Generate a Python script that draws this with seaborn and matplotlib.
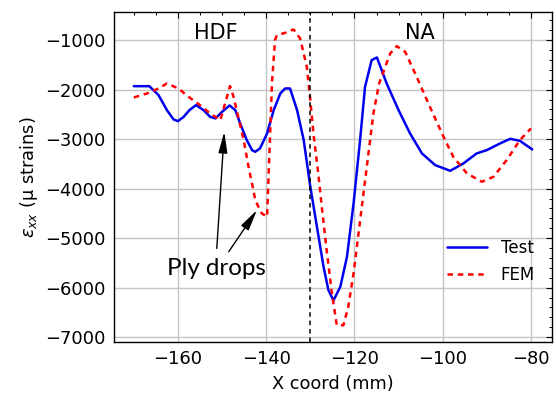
import matplotlib
matplotlib.use("Agg")
import matplotlib.pyplot as plt
from matplotlib.ticker import MultipleLocator
import numpy as np
import pandas as pd
import seaborn as sns

# ---- data ----
test_x = [-170, -166.5, -164.4, -162.5, -161.0, -160.0, -158.7, -157.4, -155.9, -154.2,
          -152.7, -151.5, -150.0, -148.3, -147.0, -145.9, -144.4, -143.2, -142.5, -141.4,
          -139.8, -138.3, -136.8, -135.7, -134.6, -133.0, -131.5, -130.0, -128.5, -127.0,
          -125.9, -124.75, -123.2, -121.7, -120.2, -118.7, -117.6, -116.1, -114.9, -112.7,
          -110.0, -107.4, -104.7, -101.7, -98.3, -95.3, -92.3, -90.0, -87.0, -84.7,
          -82.5, -79.7]
test_y = [-1930, -1930, -2111, -2414, -2602, -2636, -2549, -2414, -2313, -2414,
          -2549, -2582, -2448, -2320, -2414, -2683, -3020, -3222, -3256, -3188,
          -2885, -2414, -2077, -1976, -1976, -2414, -3020, -3963, -4771, -5580,
          -6050, -6260, -5983, -5380, -4300, -3000, -1943, -1404, -1350, -1875,
          -2414, -2885, -3289, -3525, -3640, -3491, -3289, -3222, -3087, -2994,
          -3034, -3208]

fem_x = [-170, -167.0, -164.4, -162.5, -159.9, -157.6, -155.3, -152.7, -150.4, -148.2,
         -147.4, -145.1, -144.0, -142.9, -142.5, -141.0, -139.8, -139.5, -139.1, -138.7,
         -138.0, -137.6, -135.7, -133.8, -132.3, -130.8, -130.0, -129.3, -128.2, -127.4,
         -126.3, -125.1, -124.0, -122.5, -121.4, -120.2, -118.7, -117.2, -115.7, -114.4,
         -111.9, -110.4, -108.5, -105.9, -102.9, -99.8, -97.6, -94.5, -91.1, -88.5,
         -85.5, -82.5, -80.0]
fem_y = [-2158, -2077, -1976, -1875, -1976, -2145, -2293, -2481, -2616, -1929,
         -2145, -3020, -3560, -4030, -4232, -4500, -4570, -3828, -2885, -1875,
         -1000, -900, -852, -784, -966, -1539, -2212, -2885, -3693, -4367,
         -5242, -6117, -6760, -6760, -6387, -5713, -4636, -3559, -2481, -1875,
         -1269, -1121, -1236, -1741, -2347, -2953, -3357, -3693, -3862, -3761,
         -3424, -3020, -2784]

series_labels = ["Test", "FEM"]
divider_x = -130
region_labels = ["HDF", "NA"]
annotation_text = "Ply drops"

df_test = pd.DataFrame({"x": test_x, "y": test_y})
df_fem = pd.DataFrame({"x": fem_x, "y": fem_y})

sns.set_style("whitegrid")
plt.rcParams["font.family"] = ["DejaVu Sans"]
plt.rcParams["mathtext.fontset"] = "dejavusans"
plt.rcParams["text.color"] = "black"
plt.rcParams["axes.labelcolor"] = "black"
plt.rcParams["xtick.color"] = "black"
plt.rcParams["ytick.color"] = "black"

fig = plt.figure(figsize=(5.56, 4.01), dpi=100)
ax = fig.add_axes([0.205, 0.147, 0.788, 0.822])

sns.lineplot(data=df_test, x="x", y="y", ax=ax, color="#0000ee", lw=1.8,
             label=series_labels[0], sort=False)
sns.lineplot(data=df_fem, x="x", y="y", ax=ax, color="#ff0000", lw=1.8,
             linestyle=(0, (2.2, 1.9)), label=series_labels[1], sort=False)
ax.axvline(divider_x, color="black", lw=1.1, linestyle=(0, (3, 2.5)))

ax.set_xlim(-174.5, -75.2)
ax.set_ylim(-7100, -440)

ax.xaxis.set_major_locator(MultipleLocator(20))
ax.xaxis.set_minor_locator(MultipleLocator(5))
ax.yaxis.set_major_locator(MultipleLocator(1000))
ax.yaxis.set_minor_locator(MultipleLocator(200))

ax.grid(True, which="major", color="#c4c4c4", lw=1.0)
ax.grid(False, which="minor")
for s in ax.spines.values():
    s.set_color("black")
    s.set_linewidth(1.0)

ax.tick_params(which="both", direction="in", top=True, right=True,
               colors="black", labelcolor="black", labelsize=12.9, pad=5.8)
ax.tick_params(which="major", length=4.5, width=0.8)
ax.tick_params(which="minor", length=2.3, width=0.7)

ax.set_xlabel("X coord (mm)", fontsize=12.8, labelpad=5, color="black")
ax.set_ylabel(r"$\varepsilon_{xx}$ (μ strains)", fontsize=12.8, labelpad=4, color="black")

ax.text(-151.5, -860, region_labels[0], fontsize=15, ha="center", va="center", color="black")
ax.text(-105.1, -860, region_labels[1], fontsize=15, ha="center", va="center", color="black")

arrow = dict(arrowstyle="-|>,head_length=0.8,head_width=0.17", color="black",
             lw=1.0, mutation_scale=16, shrinkA=0, shrinkB=0)
ax.annotate("", xy=(-149.5, -2852), xytext=(-151.2, -5208), arrowprops=arrow)
ax.annotate("", xy=(-142.1, -4434), xytext=(-148.5, -5276), arrowprops=arrow)
ax.text(-151.2, -5612, annotation_text, fontsize=17.4, family=["Lato", "DejaVu Sans"],
        ha="center", va="center", color="black")

leg = ax.legend(loc="lower right", bbox_to_anchor=(0.995, 0.13), frameon=False,
                fontsize=12, handlelength=2.4, handletextpad=0.8, labelspacing=0.55)
for t in leg.get_texts():
    t.set_color("black")

fig.savefig("out.png", dpi=100)
